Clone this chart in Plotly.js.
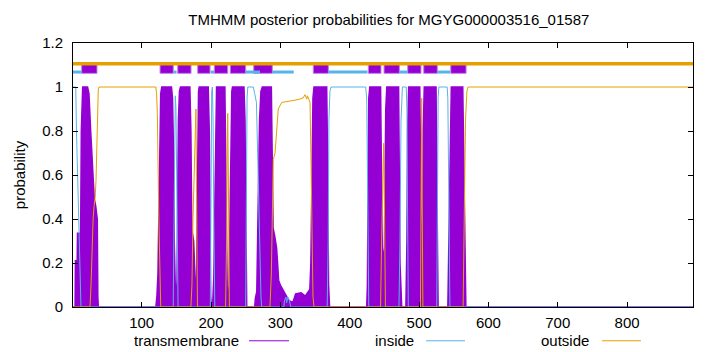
<!DOCTYPE html>
<html>
<head>
<meta charset="utf-8">
<script src="https://cdn.plot.ly/plotly-3.0.1.min.js"></script>
<style>html,body{margin:0;padding:0;background:#fff;}#chart{width:720px;height:352px;}</style>
</head>
<body>
<div id="chart"></div>
<script>
// ---- data ----
const seqLength = 895;
const xTicks = [100, 200, 300, 400, 500, 600, 700, 800];
const yTicks = [0, 0.2, 0.4, 0.6, 0.8, 1, 1.2];

// transmembrane posterior probability
const tmX = [1,4,4.5,7,7.5,12,13,14,15,22,24,26.5,28.8,30.3,31.7,33.7,35.2,36,36.8,37.5,
  120.5,122,123.5,124.5,125.5,126.5,127.5,129,143,144.5,146,147,148,149,150,151,152,153,154.5,156,169.5,171,172,172.5,175,176,177,179,180,181,182,183,196,197.5,198.5,199.5,200.5,202.5,204,205.5,206.5,208,220,221.5,222.5,223.5,224.5,226,227.5,228.5,230,231,247.5,249,250.5,251.5,
  263,264,266,268,270,272,274,287,288,289.5,292,294.5,296,297.5,300,303,307,312,318,322,330,336,340,342.5,344,345.5,347,348.5,366.8,368,369.5,371,
  424.5,425.5,426.5,427.5,429,444.5,445.5,446,447,449,450,451,452,453.5,470.5,471.5,472.5,474,475,
  481,482.5,483.5,485,501,502,503,504,505,506,507.5,524.5,525.5,526.5,527.5,
  541.5,543,544.5,546.5,563,564.5,565.5,566.5,567.5,895];
const tmY = [0,0,0.21,0.21,0.335,0.335,0.8,0.97,1,1,0.97,0.8,0.68,0.61,0.49,0.46,0.42,0.4,0.05,0,
  0,0.05,0.15,0.4,0.7,0.9,0.97,1,1,0.95,0.7,0.3,0.05,0.02,0.05,0.12,0.5,0.85,0.98,1,1,0.8,0.45,0.35,0.3,0.2,0.12,0.1,0.4,0.85,0.98,1,1,0.8,0.35,0.05,0,0.02,0.13,0.5,0.85,1,1,0.7,0.3,0.05,0.02,0.1,0.5,0.85,0.98,1,1,0.85,0.2,0,
  0,0.04,0.07,0.4,0.85,0.98,1,1,0.6,0.36,0.32,0.27,0.2,0.12,0.1,0.08,0.06,0.03,0.02,0.06,0.065,0.05,0.07,0.08,0.2,0.6,0.95,1,1,0.7,0.1,0,
  0,0.1,0.6,0.95,1,1,0.7,0.34,0.27,0.22,0.25,0.6,0.9,1,1,0.6,0.2,0.08,0,
  0,0.3,0.8,1,1,0.7,0.1,0.03,0.3,0.8,1,1,0.6,0.2,0,
  0,0.3,0.8,1,1,0.7,0.45,0.35,0,0];

// inside posterior probability
const inX = [1,5,6,7,8,9.5,11,12.5,
  145.5,146.5,147.5,148.5,149.5,150.5,151.5,152.5,
  199,200,201,202,203,204,205,205.5,
  250,251,252,253,261,263,265.5,268,270,272,273,
  305,306,308,309,311,313,315,
  367.5,369,370,371.5,373,423,424.5,425.5,426.5,427.5,
  471,472.5,474,475,476,481.5,482.5,483.5,484.5,
  525.5,526.5,527.5,528.5,540.5,541.5,542.5,543.5,544.5,
  895];
const inY = [1,1,0.8,0.67,0.62,0.35,0.1,0,
  0,0.3,0.75,0.96,0.9,0.6,0.2,0,
  0,0.7,0.98,1,0.85,0.4,0.05,0,
  0,0.6,0.95,1,1,0.97,0.93,0.6,0.25,0.05,0,
  0,0.03,0.045,0.02,0.045,0.03,0,
  0,0.3,0.85,0.98,1,1,0.95,0.6,0.1,0,
  0,0.3,0.85,0.98,1,1,0.9,0.4,0,
  0,0.6,0.95,1,1,0.95,0.6,0.1,0,
  0];

// outside posterior probability
const outX = [1,25.5,27,28,30,31.3,33,34.2,35.5,36.6,37.5,38.5,120.5,121.5,122.6,124.6,126.5,127.5,
  171,172.5,174,176,177.5,178.3,179.2,180,180.5,
  221,222.5,223.5,224.1,225,226,226.5,
  285,287,289.8,292.3,294.7,297,302,314,321,328,332.7,335.5,337,338,339,340.3,342.8,345,347,348.5,
  444.5,446,448,449,450,451.5,
  502,503,503.8,504.5,505.5,
  563.5,565,567,569,570.5,895];
const outY = [0,0,0.1,0.245,0.4,0.456,0.5,0.577,0.75,0.95,0.99,1,1,0.97,0.88,0.43,0.06,0,
  0,0.1,0.4,0.7,0.88,0.9,0.5,0.05,0,
  0,0.3,0.75,0.88,0.6,0.05,0,
  0,0.15,0.67,0.7,0.8,0.9,0.93,0.935,0.94,0.945,0.95,0.965,0.95,0.945,0.96,0.95,0.93,0.5,0.05,0,
  0,0.3,0.6,0.745,0.5,0,
  0,0.4,0.95,0.5,0,
  0,0.3,0.85,0.98,1,1];

// predicted topology (top band)
const tmStart = [13.5,126.5,152,180.8,204.8,227.8,261.6,347.5,426.8,449.5,483.6,506.7,545.7];
const tmEnd   = [35.6,145.6,171.2,198.6,224.1,250,288.4,369.2,445.1,471.6,502.8,526.3,567.8];
const inStart = [1,146,199.6,250,288.4,369.2,471.6,526.3];
const inEnd   = [13.5,150.4,204.3,270.6,319.3,425.5,483.2,544.7];
const outStart = [1];
const outEnd   = [seqLength];

const seriesNames = ['transmembrane', 'inside', 'outside'];

// ---- styling ----
const PURPLE = '#9400D3', BLUE = '#56B4E9', ORANGE = '#E69F00';
const FONT = 'Liberation Sans, Arial, sans-serif';
const BOX_LO = 1.062, BOX_HI = 1.108, IN_LVL = 1.068, OUT_LVL = 1.106;

function boxes(starts, ends, lo, hi) {
  const x = [], y = [];
  starts.forEach((s, i) => {
    x.push(s, ends[i], ends[i], s, s, null);
    y.push(lo, lo, hi, hi, lo, null);
  });
  return {x, y};
}
function segs(starts, ends, lvl) {
  const x = [], y = [];
  starts.forEach((s, i) => { x.push(s, ends[i], null); y.push(lvl, lvl, null); });
  return {x, y};
}

const tb = boxes(tmStart, tmEnd, BOX_LO, BOX_HI);
const ib = segs(inStart, inEnd, IN_LVL);
const ob = segs(outStart, outEnd, OUT_LVL);

const traces = [
  {x: tmX, y: tmY, type: 'scatter', mode: 'lines', fill: 'tozeroy',
   fillcolor: PURPLE, line: {color: PURPLE, width: 1.5}, name: seriesNames[0]},
  {x: inX, y: inY, type: 'scatter', mode: 'lines', line: {color: BLUE, width: 1}, name: seriesNames[1]},
  {x: outX, y: outY, type: 'scatter', mode: 'lines', line: {color: ORANGE, width: 1}, name: seriesNames[2]},
  {x: tb.x, y: tb.y, type: 'scatter', mode: 'lines', fill: 'toself', fillcolor: PURPLE,
   line: {color: '#c77ee6', width: 1}, connectgaps: false},
  {x: ib.x, y: ib.y, type: 'scatter', mode: 'lines', line: {color: BLUE, width: 3}, connectgaps: false},
  {x: ob.x, y: ob.y, type: 'scatter', mode: 'lines', line: {color: ORANGE, width: 3.5}, connectgaps: false}
];

const legendY = -0.128;
const legendItems = [
  {text: seriesNames[0], xEnd: 0.2706, l0: 0.2839, l1: 0.3484, color: PURPLE},
  {text: seriesNames[1], xEnd: 0.5532, l0: 0.5694, l1: 0.6323, color: BLUE},
  {text: seriesNames[2], xEnd: 0.8355, l0: 0.8532, l1: 0.9161, color: ORANGE}
];

const layout = {
  width: 720, height: 352,
  margin: {l: 73, r: 27, t: 43, b: 45},
  paper_bgcolor: '#fff', plot_bgcolor: '#fff',
  showlegend: false,
  font: {family: FONT, size: 15, color: '#000'},
  title: {text: 'TMHMM posterior probabilities for MGYG000003516_01587',
          font: {family: FONT, size: 15, color: '#000'},
          xref: 'container', x: 0.540, xanchor: 'center',
          yref: 'container', y: 1 - 20/352, yanchor: 'middle'},
  xaxis: {range: [1, seqLength], tickvals: xTicks, ticks: 'inside', ticklen: 5,
          tickcolor: '#000', showline: true, linecolor: '#000', linewidth: 1,
          mirror: 'ticks', showgrid: false, zeroline: false,
          tickfont: {family: FONT, size: 15, color: '#000'}, ticklabelstandoff: 2},
  yaxis: {range: [0, 1.2], tickvals: yTicks, ticktext: yTicks.map(String), ticks: 'inside', ticklen: 5,
          tickcolor: '#000', showline: true, linecolor: '#000', linewidth: 1,
          mirror: 'ticks', showgrid: false, zeroline: false,
          tickfont: {family: FONT, size: 15, color: '#000'}, ticklabelstandoff: 6,
          title: {text: 'probability', font: {family: FONT, size: 15, color: '#000'}, standoff: 12}},
  annotations: legendItems.map(it => ({text: it.text, xref: 'paper', yref: 'paper',
    x: it.xEnd, y: legendY, xanchor: 'right', yanchor: 'middle', showarrow: false,
    font: {family: FONT, size: 15, color: '#000'}})),
  shapes: legendItems.map(it => ({type: 'line', xref: 'paper', yref: 'paper',
    x0: it.l0, x1: it.l1, y0: legendY, y1: legendY, line: {color: it.color, width: 1}}))
};

Plotly.newPlot('chart', traces, layout, {displayModeBar: false, staticPlot: true});
</script>
</body>
</html>
